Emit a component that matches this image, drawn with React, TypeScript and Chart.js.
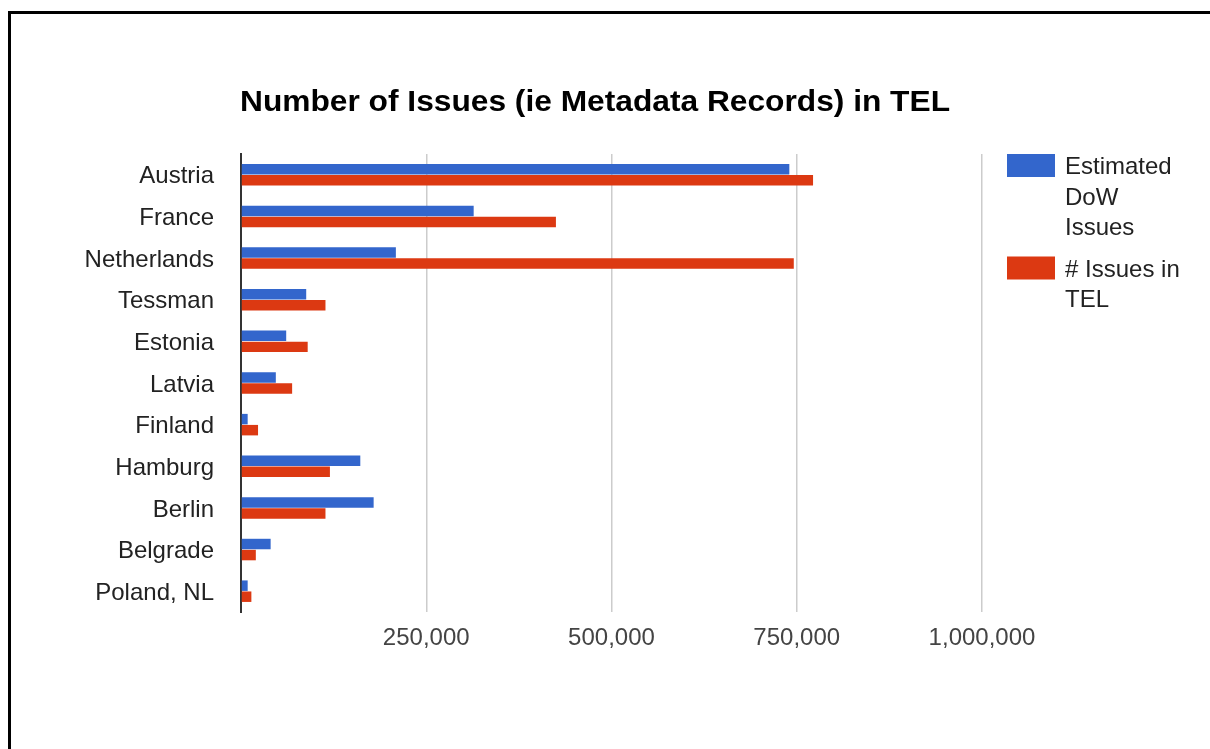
import React, { useEffect, useRef } from 'react';
import { Chart, registerables } from 'chart.js';

Chart.register(...registerables);

const titleText = 'Number of Issues (ie Metadata Records) in TEL';
const categories = [
  'Austria',
  'France',
  'Netherlands',
  'Tessman',
  'Estonia',
  'Latvia',
  'Finland',
  'Hamburg',
  'Berlin',
  'Belgrade',
  'Poland, NL',
];
const estimatedDowIssues = [740000, 314000, 209000, 88000, 61000, 47000, 9000, 161000, 179000, 40000, 9000];
const issuesInTel = [772000, 425000, 746000, 114000, 90000, 69000, 23000, 120000, 114000, 20000, 14000];
const seriesLabels = ['Estimated DoW Issues', '# Issues in TEL'];
const legendLines = [
  ['Estimated', 'DoW', 'Issues'],
  ['# Issues in', 'TEL'],
];
const xMin = 0;
const xMax = 1000000;
const xStep = 250000;

const BLUE = '#3366cc';
const RED = '#dc3912';
const FONT = '"Liberation Sans", Arial, sans-serif';
const TITLE_WIDTH = 710;

const overlayPlugin = {
  id: 'overlay',
  afterDraw(chart: any) {
    const { ctx, chartArea } = chart;
    ctx.save();
    // title (slightly widened glyphs, as in the reference)
    ctx.fillStyle = '#000';
    ctx.font = `bold 29px ${FONT}`;
    ctx.textAlign = 'left';
    ctx.textBaseline = 'alphabetic';
    const w = ctx.measureText(titleText).width;
    const sx = w > 0 ? TITLE_WIDTH / w : 1;
    ctx.save();
    ctx.translate(chartArea.left - 1, 111);
    ctx.scale(sx, 1);
    ctx.fillText(titleText, 0, 0);
    ctx.restore();

    // legend
    const boxX = chartArea.right + 25;
    const textX = chartArea.right + 83;
    const lineH = 30.5;
    let top = chartArea.top;
    ctx.font = `24px ${FONT}`;
    chart.data.datasets.forEach((ds: any, i: number) => {
      ctx.fillStyle = ds.backgroundColor;
      ctx.fillRect(boxX, top, 48, 23);
      ctx.fillStyle = '#222';
      legendLines[i].forEach((line, j) => {
        ctx.fillText(line, textX, top + 20 + j * lineH);
      });
      top += legendLines[i].length * lineH + 11;
    });
    ctx.restore();
  },
};

export default function App() {
  const canvasRef = useRef<HTMLCanvasElement>(null);

  useEffect(() => {
    if (!canvasRef.current) return;
    const chart = new Chart(canvasRef.current, {
      type: 'bar',
      data: {
        labels: categories,
        datasets: [
          {
            label: seriesLabels[0],
            data: estimatedDowIssues,
            backgroundColor: BLUE,
            borderWidth: 0,
            barPercentage: 0.95,
            categoryPercentage: 0.53,
          },
          {
            label: seriesLabels[1],
            data: issuesInTel,
            backgroundColor: RED,
            borderWidth: 0,
            barPercentage: 0.95,
            categoryPercentage: 0.53,
          },
        ],
      },
      options: {
        indexAxis: 'y',
        responsive: false,
        animation: false,
        devicePixelRatio: 1,
        layout: { padding: { left: 0, top: 154, right: 228, bottom: 77 } },
        plugins: {
          legend: { display: false },
          title: { display: false },
          tooltip: { enabled: false },
        },
        scales: {
          x: {
            type: 'linear',
            min: xMin,
            max: xMax,
            afterFit: (scale: any) => {
              scale.height = 60;
            },
            ticks: {
              stepSize: xStep,
              padding: 12,
              color: '#444',
              font: { family: FONT, size: 24 },
              callback: (v: any) => (Number(v) === 0 ? '' : Number(v).toLocaleString('en-US')),
            },
            grid: {
              drawTicks: false,
              lineWidth: 1.5,
              color: (c: any) => (c.tick && c.tick.value === 0 ? 'rgba(0,0,0,0)' : '#cccccc'),
            },
            border: { display: false },
          },
          y: {
            afterFit: (scale: any) => {
              scale.width = 241;
            },
            ticks: {
              padding: 27,
              labelOffset: 2,
              color: '#222',
              font: { family: FONT, size: 24 },
            },
            grid: { display: false, drawTicks: false },
            border: { display: true, color: '#333', width: 2 },
          },
        },
      },
      plugins: [overlayPlugin],
    });
    return () => chart.destroy();
  }, []);

  return (
    <>
      <canvas
        ref={canvasRef}
        width={1210}
        height={749}
        style={{ position: 'fixed', left: 0, top: 0, width: 1210, height: 749, display: 'block', background: '#fff' }}
      />
      <div
        style={{
          position: 'fixed',
          left: 8,
          top: 11,
          width: 1400,
          height: 900,
          borderLeft: '3px solid #000',
          borderTop: '3px solid #000',
          pointerEvents: 'none',
        }}
      />
    </>
  );
}
